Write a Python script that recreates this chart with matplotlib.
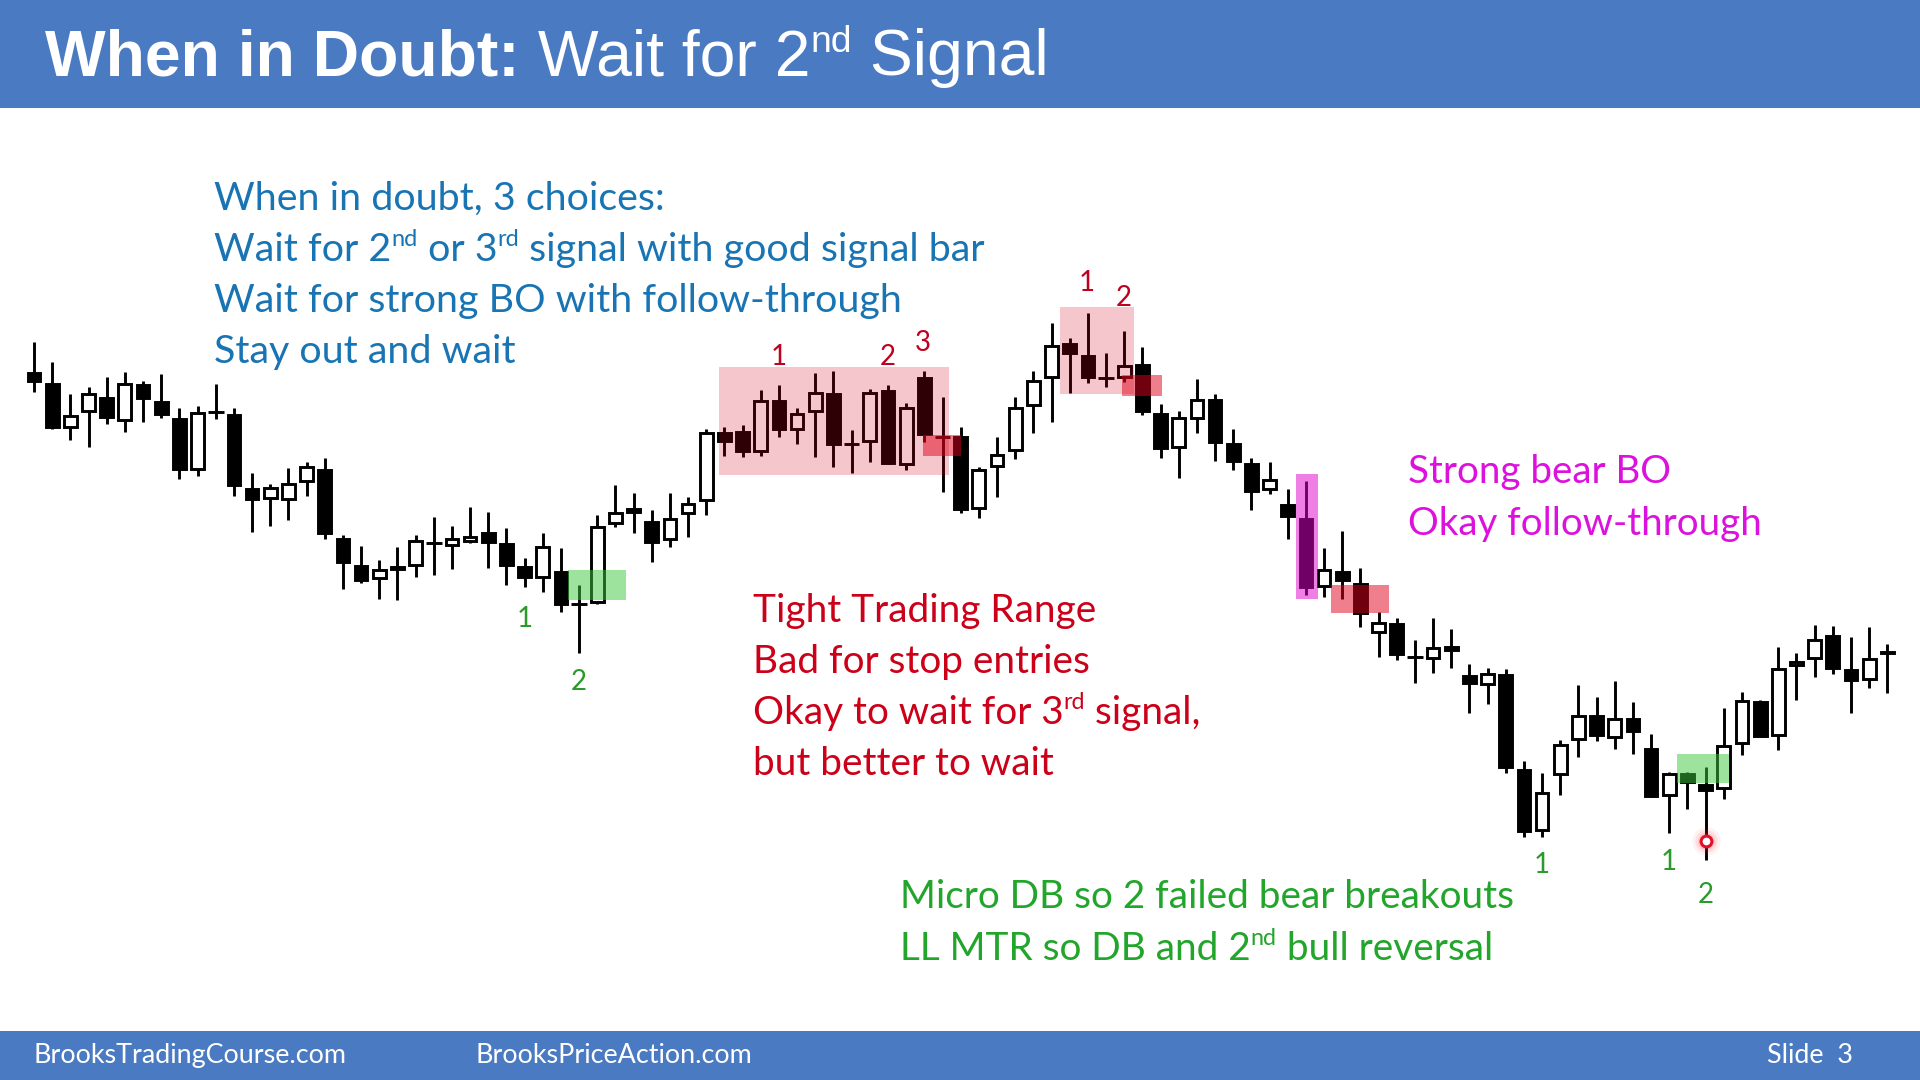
import matplotlib
matplotlib.use('Agg')
import matplotlib.pyplot as plt
from matplotlib.patches import Rectangle
import numpy as np

# ---------------- data (price levels) ----------------
opens = [62.8, 61.7, 57.2, 58.8, 60.3, 57.9, 61.6, 59.9, 58.2, 53.0,
         58.8, 58.6, 51.2, 50.1, 50.0, 51.8, 53.1, 46.2, 43.5, 42.1,
         43.0, 43.4, 45.7, 45.4, 45.8, 46.8, 45.7, 43.4, 42.2, 42.9,
         39.6, 39.7, 47.6, 49.2, 47.9, 46.0, 48.6, 49.9, 56.8, 56.9,
         54.8, 60.0, 57.0, 58.8, 60.7, 55.6, 55.8, 61.0, 53.5, 62.3,
         56.3, 56.4, 49.1, 53.3, 54.9, 59.4, 62.2, 65.7, 64.5, 62.2,
         62.2, 63.6, 58.7, 55.2, 58.1, 60.1, 55.7, 53.7, 51.0, 49.6,
         48.2, 41.3, 42.9, 41.7, 36.7, 37.7, 34.3, 34.1, 35.4, 32.5,
         31.5, 32.6, 23.1, 16.9, 22.5, 26.0, 28.5, 26.2, 28.2, 25.2,
         20.4, 22.7, 21.6, 21.1, 25.6, 29.9, 26.4, 33.4, 34.1, 36.5,
         33.1, 32.0, 34.6]
highs = [65.8, 63.8, 60.6, 61.3, 62.3, 62.8, 61.9, 62.6, 59.2, 59.4,
         61.6, 59.2, 52.7, 51.6, 53.2, 53.8, 54.2, 46.5, 45.4, 44.0,
         45.3, 46.5, 48.3, 47.4, 49.3, 48.8, 47.2, 44.2, 46.7, 45.2,
         41.5, 48.5, 51.5, 50.7, 49.0, 50.7, 50.3, 57.1, 57.3, 57.5,
         61.0, 61.5, 59.2, 62.7, 62.9, 57.0, 61.1, 61.5, 59.7, 62.9,
         60.3, 57.3, 53.3, 56.3, 60.3, 62.9, 67.7, 66.2, 68.7, 64.7,
         66.9, 65.3, 59.6, 58.9, 62.1, 60.6, 57.1, 54.2, 53.8, 51.1,
         51.9, 45.2, 46.9, 43.2, 38.8, 38.2, 36.0, 38.2, 37.1, 33.6,
         33.2, 33.1, 23.9, 22.7, 26.0, 31.5, 30.3, 31.9, 29.8, 26.6,
         22.8, 22.8, 23.3, 29.2, 30.8, 30.0, 35.3, 34.7, 37.5, 37.4,
         36.3, 37.3, 35.6]
lows = [60.8, 57.1, 56.0, 55.3, 57.6, 56.8, 57.8, 58.2, 52.1, 52.4,
        58.1, 50.4, 46.8, 47.4, 48.0, 50.4, 46.1, 41.1, 41.7, 40.1,
        40.0, 42.3, 42.5, 43.1, 45.7, 43.2, 41.5, 41.3, 40.8, 38.8,
        34.7, 39.6, 47.3, 46.7, 43.8, 45.3, 46.3, 48.5, 54.4, 54.3,
        54.4, 56.3, 55.6, 54.3, 53.3, 52.7, 53.8, 53.6, 53.0, 55.8,
        50.8, 48.7, 48.2, 50.3, 54.1, 56.7, 57.8, 60.7, 61.7, 61.3,
        61.8, 58.5, 54.2, 52.2, 56.7, 53.9, 53.0, 49.0, 50.6, 46.1,
        40.5, 40.3, 40.1, 37.3, 34.3, 34.0, 31.7, 32.7, 33.2, 28.7,
        29.6, 22.7, 16.3, 16.3, 20.5, 24.3, 25.9, 25.1, 24.6, 20.3,
        16.7, 19.1, 14.0, 20.1, 24.5, 26.3, 25.0, 30.0, 32.3, 32.6,
        28.7, 31.2, 30.7]
closes = [61.8, 57.2, 58.5, 60.7, 58.2, 61.7, 60.1, 58.5, 53.0, 58.8,
          58.8, 51.4, 50.0, 51.3, 51.7, 53.4, 46.6, 43.7, 41.9, 43.1,
          43.4, 46.0, 45.7, 46.2, 46.4, 45.7, 43.4, 42.2, 45.4, 39.5,
          39.6, 47.4, 48.8, 48.7, 45.7, 48.2, 49.7, 56.8, 55.8, 54.8,
          60.0, 57.0, 58.7, 60.8, 55.5, 55.6, 60.8, 53.6, 59.3, 56.5,
          56.3, 49.0, 53.1, 54.6, 59.3, 62.0, 65.5, 64.6, 62.2, 62.2,
          63.5, 58.8, 55.1, 58.3, 60.1, 55.7, 53.8, 50.8, 52.1, 48.3,
          41.2, 43.1, 41.9, 38.6, 37.8, 34.5, 34.3, 35.3, 34.9, 31.6,
          32.7, 23.2, 16.8, 20.8, 25.6, 28.5, 26.4, 28.2, 26.8, 20.3,
          22.7, 21.7, 20.9, 25.5, 30.0, 26.3, 33.2, 33.9, 36.1, 33.1,
          31.9, 34.2, 34.9]

# highlighted zones: (first bar idx, last bar idx, low price, high price, colour, alpha)
zone_x0 = [37.7, 48.95, 56.45, 59.9, 69.45, 71.4, 29.4, 90.4]
zone_x1 = [50.35, 51.0, 60.55, 62.1, 70.65, 74.6, 32.6, 93.3]
zone_lo = [52.5, 54.4, 60.6, 60.4, 40.1, 38.7, 40.0, 21.7]
zone_hi = [63.3, 56.5, 69.3, 62.5, 52.6, 41.5, 43.0, 24.6]
zone_col = ['#D2001A', '#E0001A', '#D2001A', '#E0001A', '#E000CC', '#E0001A', '#3CC83C', '#3CC83C']
zone_alpha = [0.22, 0.5, 0.22, 0.5, 0.5, 0.5, 0.5, 0.5]

marker_bar, marker_price = 92, 15.9

# ---------------- figure ----------------
W, H = 1920, 1080
fig = plt.figure(figsize=(19.2, 10.8), dpi=100)
fig.patch.set_facecolor('white')
ax = fig.add_axes([0, 0, 1, 1])
ax.patch.set_alpha(0)
x0px, step = 34.0, 18.17
ax.set_xlim(-x0px / step, (W - x0px) / step)
ax.set_ylim(-8, 100)
ax.axis('off')

BLUE_BAR = '#4A7BC2'
ax.add_patch(Rectangle((0, 1 - 108 / H), 1, 108 / H, transform=ax.transAxes,
                       facecolor=BLUE_BAR, edgecolor='none', zorder=1, clip_on=False))
ax.add_patch(Rectangle((0, 0), 1, (H - 1031) / H, transform=ax.transAxes,
                       facecolor=BLUE_BAR, edgecolor='none', zorder=1, clip_on=False))

# candles
bw = 0.70
bw_outer = 0.86
LW = 2.1
for i, (o, h, l, c) in enumerate(zip(opens, highs, lows, closes)):
    ax.plot([i, i], [l, h], color='black', lw=LW, solid_capstyle='butt', zorder=2)
    top, bot = max(o, c), min(o, c)
    if top - bot < 0.15:
        ax.plot([i - bw_outer / 2, i + bw_outer / 2], [o, o], color='black', lw=LW,
                solid_capstyle='butt', zorder=3)
    else:
        pad = 0.13
        hgt = max(top - bot - 2 * pad, 0.05)
        face = 'white' if c > o else 'black'
        ax.add_patch(Rectangle((i - bw / 2, bot + pad), bw, hgt, facecolor=face,
                               edgecolor='black', lw=LW, zorder=3))

for x0, x1, lo, hi, col, al in zip(zone_x0, zone_x1, zone_lo, zone_hi, zone_col, zone_alpha):
    ax.add_patch(Rectangle((x0, lo), x1 - x0, hi - lo, facecolor=col, edgecolor='none',
                           alpha=al, zorder=4))

# red ring marker with glow
for s, a in [(420, 0.06), (260, 0.10), (150, 0.14)]:
    ax.scatter([marker_bar], [marker_price], s=s, color='#FF3040', alpha=a, lw=0, zorder=5)
ax.scatter([marker_bar], [marker_price], s=60, facecolor='white', edgecolor='#E0102A',
           lw=2.2, zorder=6)

# ---------------- text ----------------
renderer = fig.canvas.get_renderer()
BODY = ['Lato', 'DejaVu Sans']
TITLE = ['Liberation Sans', 'DejaVu Sans']


def seg_draw(x, y, segs, size, color, family, draw=True, sup_scale=0.6, sup_rise=0.38):
    cur = x
    arts = []
    for s, kind in segs:
        if kind == 'sup':
            fs = size * sup_scale
            yy = y - size * sup_rise * 100 / 72
        else:
            fs = size
            yy = y
        wt = 'bold' if kind == 'b' else 'normal'
        t = fig.text(cur / W, 1 - yy / H, s, fontsize=fs, color=color, family=family,
                     fontweight=wt, ha='left', va='baseline')
        bb = t.get_window_extent(renderer)
        cur += bb.width
        arts.append(t)
    if not draw:
        for t in arts:
            t.remove()
    return cur - x


def fit(segs, target, family, **kw):
    ref = 30.0
    w = seg_draw(0, 0, segs, ref, 'k', family, draw=False, **kw)
    return ref * target / w


def block(x, baselines, lines, fit_idx, target, color, family=BODY):
    size = fit(lines[fit_idx], target, family)
    for yb, segs in zip(baselines, lines):
        seg_draw(x, yb, segs, size, color, family)


# title
title_segs = [('When in Doubt:', 'b'), (' Wait for 2', 'n'), ('nd', 'sup'), (' Signal', 'n')]
tsize = fit(title_segs, 1002, TITLE, sup_scale=0.58, sup_rise=0.36)
seg_draw(45, 75, title_segs, tsize, 'white', TITLE, sup_scale=0.58, sup_rise=0.36)

blue_lines = [
    [('When in doubt, 3 choices:', 'n')],
    [('Wait for 2', 'n'), ('nd', 'sup'), (' or 3', 'n'), ('rd', 'sup'),
     (' signal with good signal bar', 'n')],
    [('Wait for strong BO with follow-through', 'n')],
    [('Stay out and wait', 'n')],
]
block(214, [210, 261, 312, 363], blue_lines, 1, 771, '#1874B3')

red_lines = [
    [('Tight Trading Range', 'n')],
    [('Bad for stop entries', 'n')],
    [('Okay to wait for 3', 'n'), ('rd', 'sup'), (' signal,', 'n')],
    [('but better to wait', 'n')],
]
block(753, [622, 673, 724, 775], red_lines, 2, 447, '#CC0018')

mag_lines = [
    [('Strong bear BO', 'n')],
    [('Okay follow-through', 'n')],
]
block(1408, [483, 535], mag_lines, 1, 353, '#DD11DD')

green_lines = [
    [('Micro DB so 2 failed bear breakouts', 'n')],
    [('LL MTR so DB and 2', 'n'), ('nd', 'sup'), (' bull reversal', 'n')],
]
block(900, [908, 960], green_lines, 0, 613, '#22A52B')

# number labels
labels = [('1', 525, 619, '#2A9A2A'), ('2', 579, 682, '#2A9A2A'),
          ('1', 779, 357, '#C0001F'), ('2', 888, 357, '#C0001F'), ('3', 923, 343, '#C0001F'),
          ('1', 1087, 283, '#C0001F'), ('2', 1124, 298, '#C0001F'),
          ('1', 1542, 865, '#2A9A2A'), ('1', 1669, 862, '#2A9A2A'), ('2', 1706, 895, '#2A9A2A')]
for s, x, y, col in labels:
    fig.text(x / W, 1 - y / H, s, fontsize=20, color=col, family=BODY, ha='center', va='center')

# footer
fsize = fit([('BrooksTradingCourse.com', 'n')], 312, BODY)
seg_draw(34, 1063, [('BrooksTradingCourse.com', 'n')], fsize, 'white', BODY)
seg_draw(475, 1063, [('BrooksPriceAction.com', 'n')], fsize, 'white', BODY)
seg_draw(1767, 1063, [('Slide  3', 'n')], fsize, 'white', BODY)

fig.savefig('out.png', dpi=100, facecolor='white')
